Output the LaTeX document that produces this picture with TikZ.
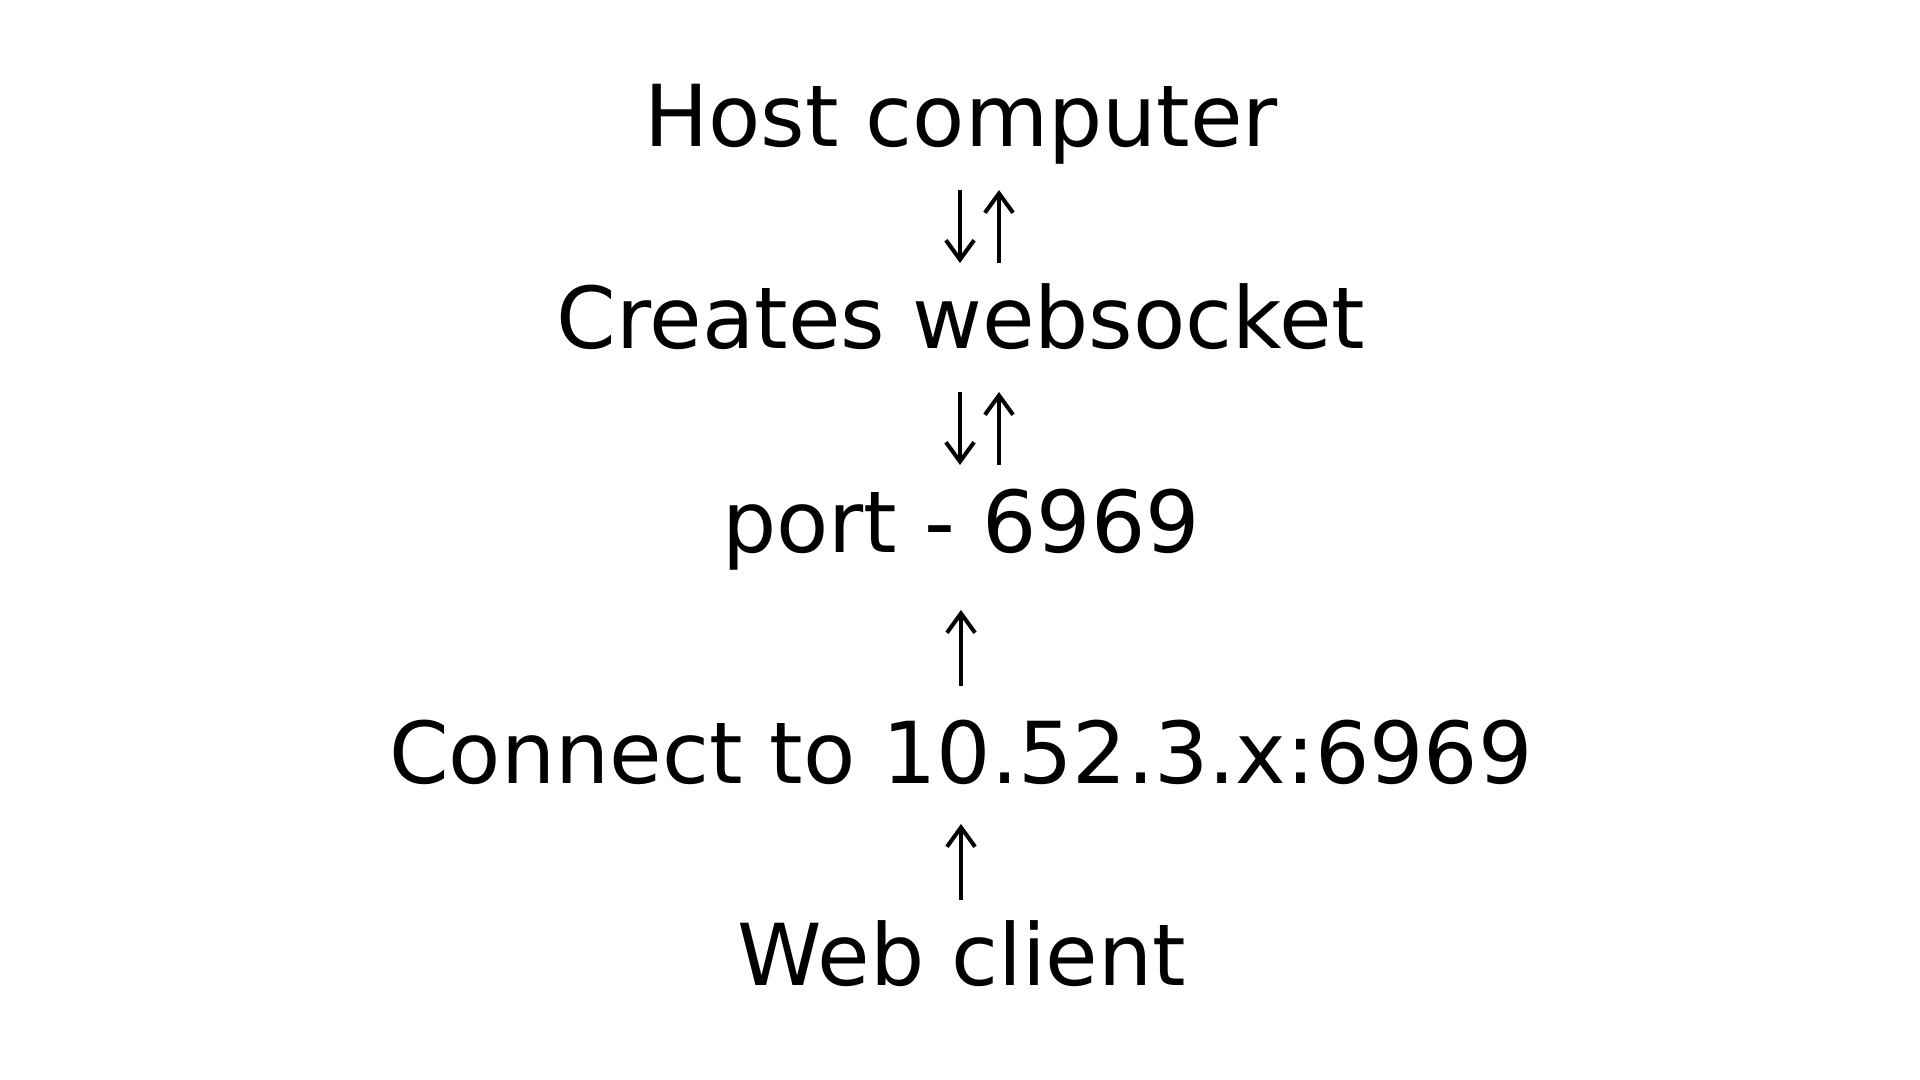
\documentclass[tikz,border=0pt]{standalone}
\usepackage{fontspec}
\setmainfont{DejaVu Sans}
\usetikzlibrary{arrows.meta,calc}
\tikzset{
  lbl/.style={anchor=base, inner sep=0pt, font=\fontsize{24.3pt}{29pt}\selectfont},
  arr/.style={line width=1.15pt, -{Straight Barb[length=5.5pt,width=8pt,line width=1.15pt]}}
}
\begin{document}
\begin{tikzpicture}[x=0.01cm,y=-0.01cm]
\useasboundingbox[fill=white] (0,0) rectangle (1920,1080);
\node[lbl] (host) at (961,147) {Host computer};
\node[lbl] (creates) at (961,349) {Creates websocket};
\node[lbl] (port) at (961,553) {port - 6969};
\node[lbl] (connect) at (961,784) {Connect to 10.52.3.x:6969};
\node[lbl] (web) at (962,986) {Web client};
% host <-> creates
\draw[arr] ($(host.base)+(-1,43)$) -- ($(creates.base)+(-1,-86)$);
\draw[arr] ($(creates.base)+(38,-86)$) -- ($(host.base)+(38,43)$);
% creates <-> port
\draw[arr] ($(creates.base)+(-1,43)$) -- ($(port.base)+(-1,-88)$);
\draw[arr] ($(port.base)+(38,-88)$) -- ($(creates.base)+(38,43)$);
% connect -> port
\draw[arr] ($(connect.base)+(0,-98)$) -- ($(port.base)+(0,57)$);
% web -> connect
\draw[arr] ($(web.base)+(-1,-86)$) -- ($(connect.base)+(0,40)$);
\end{tikzpicture}
\end{document}
